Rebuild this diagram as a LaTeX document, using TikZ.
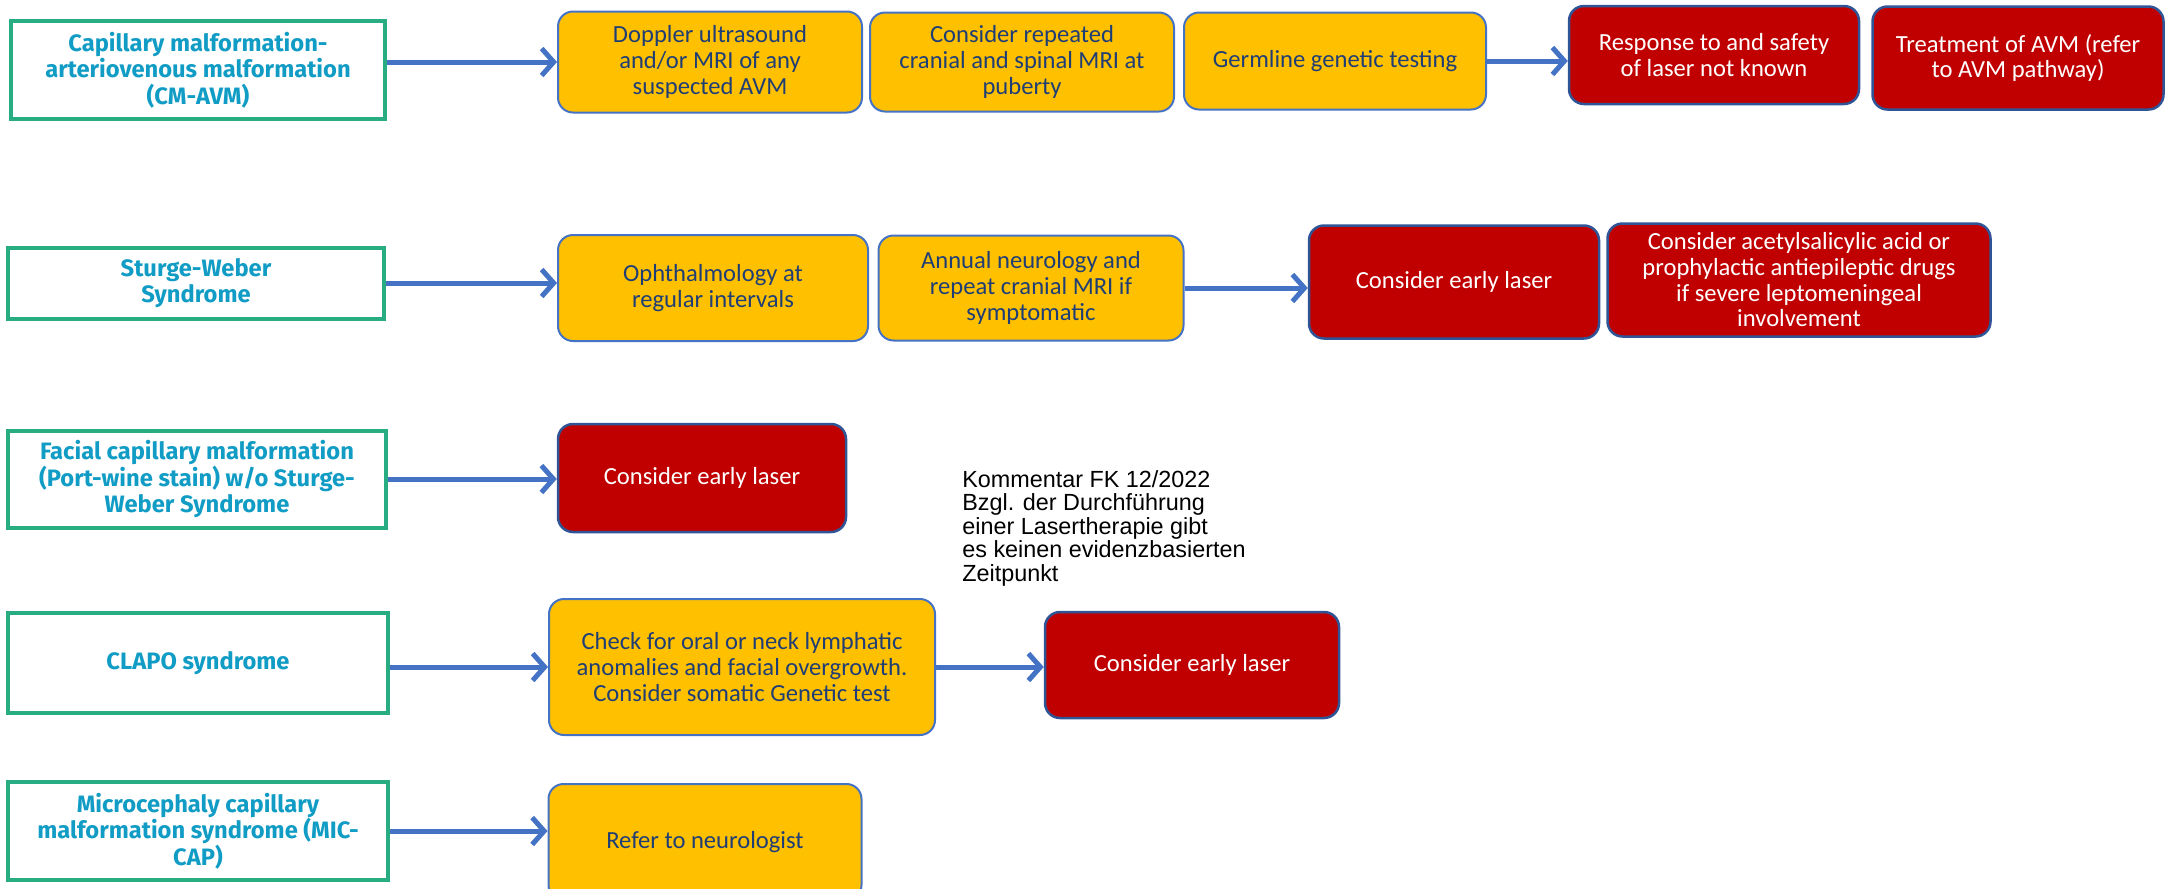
\documentclass[tikz,border=0pt]{standalone}
\usepackage{fontspec}
\setmainfont{Carlito}
\newfontfamily\condfont{Fira Sans}
\newfontfamily\notefont{Liberation Sans}
\usepackage{tikz}
\usetikzlibrary{arrows.meta}
\definecolor{cgreen}{RGB}{40,172,130}
\definecolor{ccyan}{RGB}{16,156,196}
\definecolor{corange}{RGB}{255,192,0}
\definecolor{cblue}{RGB}{68,114,196}
\definecolor{cnavy}{RGB}{31,62,118}
\definecolor{cred}{RGB}{192,0,0}
\definecolor{credline}{RGB}{47,85,151}
\tikzset{
  cond/.style={draw=cgreen, line width=0.8mm, fill=white, text=ccyan, align=center, inner sep=1pt,
    font=\condfont\bfseries\fontsize{13.5}{15}\selectfont},
  exam/.style={draw=cblue, line width=0.4mm, fill=corange, text=cnavy, rounded corners=3mm, align=center, inner sep=1pt,
    font=\fontsize{14}{14.6}\selectfont},
  laser/.style={draw=credline, line width=0.5mm, fill=cred, text=white, rounded corners=3mm, align=center, inner sep=1pt,
    font=\fontsize{14}{14.6}\selectfont},
  arr/.style={draw=cblue, line width=1mm, -{Straight Barb[length=2.4mm,width=5.4mm]}}
}
\begin{document}
\begin{tikzpicture}[x=0.2mm,y=-0.2mm]
      \useasboundingbox (0,0) rectangle (2166,888);
      \clip (0,0) rectangle (2166,888);
      \node[cond, minimum width=74.8mm, minimum height=19.6mm] (cmavm) at (198,70) {Capillary malformation-\\arteriovenous malformation\\(CM-AVM)};
      \node[exam, minimum width=60.8mm, minimum height=20.2mm] (doppler) at (710,62) {Doppler ultrasound\\and/or MRI of any\\suspected AVM};
      \node[exam, minimum width=60.8mm, minimum height=19.8mm] (repmri) at (1022,62) {Consider repeated\\cranial and spinal MRI at\\puberty};
      \node[exam, minimum width=60.4mm, minimum height=19.4mm] (germline) at (1335,61) {Germline genetic testing};
      \node[laser, minimum width=58mm, minimum height=19.6mm] (response) at (1714,55) {Response to and safety\\of laser not known};
      \node[laser, minimum width=58.2mm, minimum height=20.6mm] (avmtreat) at (2018,58) {Treatment of AVM (refer\\to AVM pathway)};
      \node[cond, minimum width=75.2mm, minimum height=14.2mm] (sws) at (196,283) {Sturge-Weber\\Syndrome};
      \node[exam, minimum width=62mm, minimum height=21.2mm] (ophth) at (713,288) {Ophthalmology at\\regular intervals};
      \node[exam, minimum width=61mm, minimum height=21mm] (neuro) at (1031,288) {Annual neurology and\\repeat cranial MRI if\\symptomatic};
      \node[laser, minimum width=58mm, minimum height=22.6mm] (laserA) at (1454,282) {Consider early laser};
      \node[laser, minimum width=76.6mm, minimum height=22.6mm] (asa) at (1799,280) {Consider acetylsalicylic acid or\\prophylactic antiepileptic drugs\\if severe leptomeningeal\\involvement};
      \node[cond, minimum width=75.6mm, minimum height=19.4mm] (facial) at (197,479) {Facial capillary malformation\\(Port-wine stain) w/o Sturge-\\Weber Syndrome};
      \node[laser, minimum width=57.6mm, minimum height=21.6mm] (laserB) at (702,478) {Consider early laser};
      \node[anchor=north west, align=left, inner sep=0pt, font=\notefont\fontsize{13.3}{13.4}\selectfont] (fknote) at (962,470) {Kommentar FK 12/2022\\Bzgl. der Durchführung\\einer Lasertherapie gibt\\es keinen evidenzbasierten\\Zeitpunkt};
      \node[cond, minimum width=75.8mm, minimum height=20mm] (clapo) at (198,663) {CLAPO syndrome};
      \node[exam, minimum width=77.2mm, minimum height=27.2mm] (check) at (742,667) {Check for oral or neck lymphatic\\anomalies and facial overgrowth.\\Consider somatic Genetic test};
      \node[laser, minimum width=58.8mm, minimum height=21.2mm] (laserC) at (1192,665) {Consider early laser};
      \node[cond, minimum width=75.8mm, minimum height=19.6mm] (miccap) at (198,831) {Microcephaly capillary\\malformation syndrome (MIC-\\CAP)};
      \node[exam, minimum width=62.6mm, minimum height=23.2mm] (neurol) at (705,842) {Refer to neurologist};
      \draw[arr] (cmavm.east |- doppler.west) -- (doppler.west);
      \draw[arr] (germline.east) -- (germline.east -| response.west);
      \draw[arr] (sws.east) -- (sws.east -| ophth.west);
      \draw[arr] (neuro.east) -- (neuro.east -| laserA.west);
      \draw[arr] (facial.east) -- (facial.east -| laserB.west);
      \draw[arr] (clapo.east |- check.west) -- (check.west);
      \draw[arr] (check.east) -- (check.east -| laserC.west);
      \draw[arr] (miccap.east) -- (miccap.east -| neurol.west);
\end{tikzpicture}
\end{document}
